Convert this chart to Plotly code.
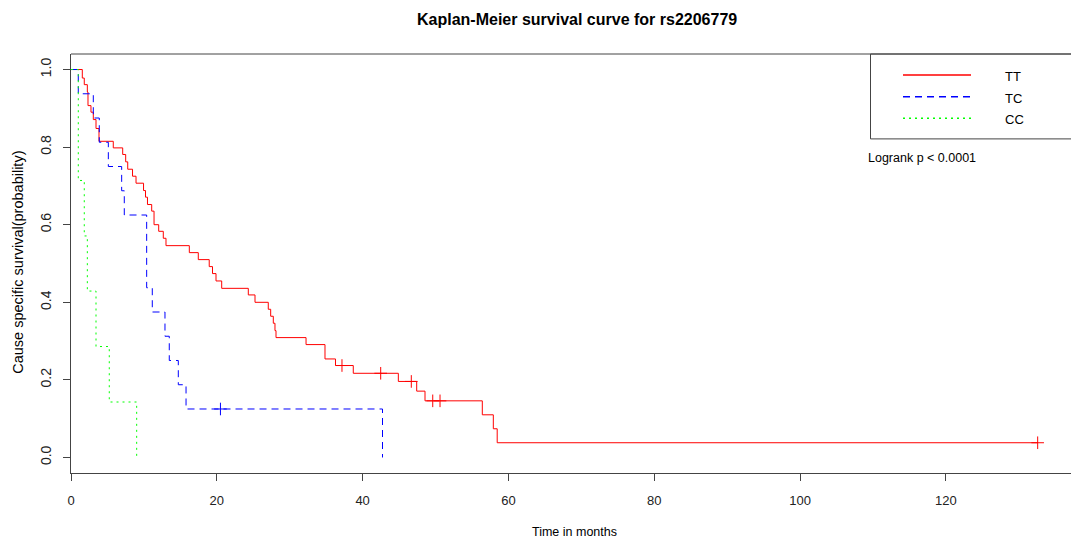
import numpy as np
import plotly.graph_objects as go

# Kaplan-Meier estimates per genotype: event times (months) and survival after each event
tt_time = [1.55, 1.82, 2.24, 2.33, 2.74, 3.06, 3.43, 3.84, 5.80, 7.09, 7.50, 7.78,
           8.44, 8.92, 9.95, 10.22, 10.49, 11.07, 11.39, 12.03, 12.66, 13.03, 16.23,
           17.46, 18.96, 19.41, 19.89, 20.67, 24.32, 25.24, 27.06, 27.39, 27.75, 27.98,
           28.12, 32.24, 34.84, 36.28, 38.72, 44.90, 47.42, 48.56, 56.42, 57.93, 58.46]
tt_surv = [0.978, 0.961, 0.942, 0.907, 0.890, 0.871, 0.848, 0.815, 0.798, 0.781, 0.762,
           0.743, 0.725, 0.707, 0.688, 0.671, 0.652, 0.635, 0.600, 0.583, 0.565, 0.546,
           0.528, 0.510, 0.492, 0.474, 0.455, 0.436, 0.419, 0.400, 0.382, 0.364, 0.346,
           0.327, 0.309, 0.291, 0.254, 0.237, 0.217, 0.196, 0.171, 0.146, 0.110, 0.074,
           0.038]
tt_censor = [37.17, 42.48, 46.68, 49.62, 50.62, 132.6]

tc_time = [1.0, 3.06, 3.88, 5.12, 6.95, 7.31, 10.38, 11.15, 12.89, 13.48, 14.72, 15.78, 42.73]
tc_surv = [0.9375, 0.875, 0.8125, 0.75, 0.6875, 0.625, 0.4375, 0.375, 0.3125, 0.25,
           0.1875, 0.125, 0.0]
tc_censor = [20.5]

cc_time = [1.0, 1.82, 2.24, 3.43, 5.25, 9.01]
cc_surv = [0.714, 0.571, 0.429, 0.286, 0.143, 0.0]
cc_censor = []

groups = ["TT", "TC", "CC"]
colors = ["#FF0000", "#0000FF", "#00FF00"]
dashes = ["solid", "7px,5px", "2px,4px"]

x_ticks = [0, 20, 40, 60, 80, 100, 120]
y_ticks = [0.0, 0.2, 0.4, 0.6, 0.8, 1.0]
y_tick_text = ["0.0", "0.2", "0.4", "0.6", "0.8", "1.0"]

title_text = "Kaplan-Meier survival curve for rs2206779"
x_title = "Time in months"
y_title = "Cause specific survival(probability)"
pvalue_text = "Logrank p < 0.0001"

# page geometry (pixels)
W, H = 1071, 542
L, R, T, B = 71, 0, 54, 68.5
plot_w = W - L - R
plot_h = H - T - B
x_max = 137.17
FONT = "Liberation Sans, Arial, sans-serif"
AXIS_COLOR = "#444444"


def px(xp):
    return (xp - L) / plot_w


def py(yp):
    return (H - B - yp) / plot_h


def km_path(times, surv, censor):
    xs = [0.0] + list(times)
    ys = [1.0] + list(surv)
    if censor and max(censor) > times[-1]:
        xs.append(max(censor))
        ys.append(surv[-1])
    return xs, ys


def surv_at(times, surv, t):
    i = np.searchsorted(times, t, side="right") - 1
    return 1.0 if i < 0 else surv[i]


series = [(tt_time, tt_surv, tt_censor), (tc_time, tc_surv, tc_censor),
          (cc_time, cc_surv, cc_censor)]

fig = go.Figure()
for name, (tm, sv, cs), col, dsh in zip(groups, series, colors, dashes):
    xs, ys = km_path(tm, sv, cs)
    fig.add_trace(go.Scatter(x=xs, y=ys, mode="lines", line_shape="hv", name=name,
                             line=dict(color=col, width=1, dash=dsh),
                             showlegend=False, hoverinfo="skip"))
    if cs:
        fig.add_trace(go.Scatter(x=cs, y=[surv_at(tm, sv, c) for c in cs], mode="markers",
                                 marker=dict(symbol="cross-thin", size=9,
                                             line=dict(color=col, width=1)),
                                 showlegend=False, hoverinfo="skip"))

shapes = [
    # top border of the plotting region
    dict(type="line", xref="paper", yref="paper", x0=0, x1=1.02, y0=1, y1=1,
         line=dict(color=AXIS_COLOR, width=1)),
    # legend frame
    dict(type="rect", xref="paper", yref="paper", x0=px(870.5), x1=1.05,
         y0=py(139), y1=1, line=dict(color=AXIS_COLOR, width=1), fillcolor="rgba(0,0,0,0)"),
]
annotations = [
    dict(text="<b>%s</b>" % title_text, xref="paper", yref="paper", x=px(577), y=py(19),
         showarrow=False, xanchor="center", yanchor="middle",
         font=dict(family=FONT, size=16, color="#000")),
    dict(text=x_title, xref="paper", yref="paper", x=px(574), y=py(533),
         showarrow=False, xanchor="center", yanchor="middle",
         font=dict(family=FONT, size=12.5, color="#000")),
    dict(text=y_title, xref="paper", yref="paper", x=px(18), y=py(263), textangle=-90,
         showarrow=False, xanchor="center", yanchor="middle",
         font=dict(family=FONT, size=14.5, color="#000")),
    dict(text=pvalue_text, xref="paper", yref="paper", x=px(866), y=py(158),
         showarrow=False, xanchor="left", yanchor="middle",
         font=dict(family=FONT, size=12.5, color="#000")),
]
legend_y = [75, 96.7, 118.3]
for name, col, dsh, ly in zip(groups, colors, dashes, legend_y):
    shapes.append(dict(type="line", xref="paper", yref="paper", x0=px(903), x1=px(971),
                       y0=py(ly), y1=py(ly), line=dict(color=col, width=1.5, dash=dsh)))
    annotations.append(dict(text=name, xref="paper", yref="paper", x=px(1003), y=py(ly + 1.5),
                            showarrow=False, xanchor="left", yanchor="middle",
                            font=dict(family=FONT, size=13, color="#000")))

fig.update_layout(
    width=W, height=H,
    margin=dict(l=L, r=R, t=T, b=B, pad=0),
    paper_bgcolor="white", plot_bgcolor="white",
    font=dict(family=FONT, size=12, color="#000"),
    shapes=shapes, annotations=annotations,
    xaxis=dict(range=[0, x_max], tickmode="array", tickvals=x_ticks,
               showline=True, linecolor=AXIS_COLOR, linewidth=1, mirror=False,
               ticks="outside", ticklen=7, tickcolor=AXIS_COLOR, tickwidth=1,
               showgrid=False, zeroline=False, ticklabelstandoff=8,
               tickfont=dict(family=FONT, size=13, color="#222")),
    yaxis=dict(range=[-0.04, 1.04], tickmode="array", tickvals=y_ticks,
               ticktext=y_tick_text, tickangle=-90,
               showline=True, linecolor=AXIS_COLOR, linewidth=1, mirror=False,
               ticks="outside", ticklen=7, tickcolor=AXIS_COLOR, tickwidth=1,
               showgrid=False, zeroline=False, ticklabelstandoff=6,
               tickfont=dict(family=FONT, size=14, color="#222")),
)

fig.write_html("out.html")
